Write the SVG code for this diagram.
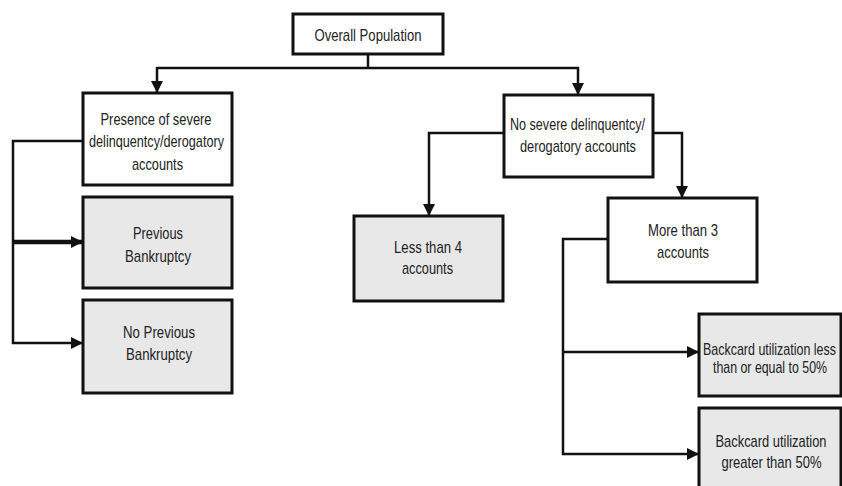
<svg xmlns="http://www.w3.org/2000/svg" width="842" height="486" viewBox="0 0 842 486">
<style>
.box{fill:#ffffff;stroke:#111;stroke-width:3}
.gbox{fill:#e8e8e8;stroke:#111;stroke-width:3}
.t{font-family:"Liberation Sans",Arial,sans-serif;font-size:17px;fill:#222;text-anchor:middle}
.c{fill:none;stroke:#111;stroke-width:2.5}
</style>
<defs>
<marker id="ah" markerWidth="12" markerHeight="12" viewBox="0 0 12 12" refX="11" refY="6" orient="auto" markerUnits="userSpaceOnUse">
<path d="M0,0 L12,6 L0,12 Z" fill="#111"/>
</marker>
</defs>
<rect width="842" height="486" fill="#ffffff"/>
<g id="connectors">
<path class="c" d="M368,54 V68"/>
<path class="c" d="M157,68 H579"/>
<path class="c" d="M157,67 V92" marker-end="url(#ah)"/>
<path class="c" d="M578,67 V94" marker-end="url(#ah)"/>
<path class="c" d="M83,141 H13 V343 H82" marker-end="url(#ah)"/>
<path class="c" d="M13,242 H82" style="stroke-width:4.5" marker-end="url(#ah)"/>
<path class="c" d="M504,133 H429 V215" marker-end="url(#ah)"/>
<path class="c" d="M653,133 H682 V197" marker-end="url(#ah)"/>
<path class="c" d="M608,239 H563 V454 H698" marker-end="url(#ah)"/>
<path class="c" d="M563,352 H698" marker-end="url(#ah)"/>
</g>
<g id="overall">
<rect class="box" x="293" y="14" width="150" height="40"/>
<text class="t" x="368" y="41" textLength="107" lengthAdjust="spacingAndGlyphs">Overall Population</text>
</g>
<g id="presence">
<rect class="box" x="83" y="93" width="149" height="92"/>
<text class="t" x="156" y="125" textLength="111" lengthAdjust="spacingAndGlyphs">Presence of severe</text>
<text class="t" x="156.5" y="147" textLength="135" lengthAdjust="spacingAndGlyphs">delinquentcy/derogatory</text>
<text class="t" x="157.5" y="170" textLength="51" lengthAdjust="spacingAndGlyphs">accounts</text>
</g>
<g id="prevbank">
<rect class="gbox" x="83" y="197" width="149" height="91"/>
<text class="t" x="158" y="239" textLength="50" lengthAdjust="spacingAndGlyphs">Previous</text>
<text class="t" x="158" y="262" textLength="66" lengthAdjust="spacingAndGlyphs">Bankruptcy</text>
</g>
<g id="noprevbank">
<rect class="gbox" x="83" y="300" width="149" height="93"/>
<text class="t" x="159" y="338" textLength="72" lengthAdjust="spacingAndGlyphs">No Previous</text>
<text class="t" x="159" y="360" textLength="66" lengthAdjust="spacingAndGlyphs">Bankruptcy</text>
</g>
<g id="nosevere">
<rect class="box" x="504" y="95" width="149" height="82"/>
<text class="t" x="577.5" y="130" textLength="135" lengthAdjust="spacingAndGlyphs">No severe delinquentcy/</text>
<text class="t" x="578" y="152" textLength="116" lengthAdjust="spacingAndGlyphs">derogatory accounts</text>
</g>
<g id="lessthan4">
<rect class="gbox" x="354" y="216" width="149" height="85"/>
<text class="t" x="428" y="253" textLength="68" lengthAdjust="spacingAndGlyphs">Less than 4</text>
<text class="t" x="427.5" y="274" textLength="51" lengthAdjust="spacingAndGlyphs">accounts</text>
</g>
<g id="morethan3">
<rect class="box" x="608" y="198" width="149" height="84"/>
<text class="t" x="683" y="236" textLength="70" lengthAdjust="spacingAndGlyphs">More than 3</text>
<text class="t" x="683" y="258" textLength="52" lengthAdjust="spacingAndGlyphs">accounts</text>
</g>
<g id="backcard1">
<rect class="gbox" x="699" y="314" width="142" height="82"/>
<text class="t" x="769.5" y="355" textLength="133" lengthAdjust="spacingAndGlyphs">Backcard utilization less</text>
<text class="t" x="770" y="373" textLength="114" lengthAdjust="spacingAndGlyphs">than or equal to 50%</text>
</g>
<g id="backcard2">
<rect class="gbox" x="699" y="408" width="142" height="84"/>
<text class="t" x="771" y="447" textLength="111" lengthAdjust="spacingAndGlyphs">Backcard utilization</text>
<text class="t" x="771.5" y="468" textLength="100" lengthAdjust="spacingAndGlyphs">greater than 50%</text>
</g>
</svg>
